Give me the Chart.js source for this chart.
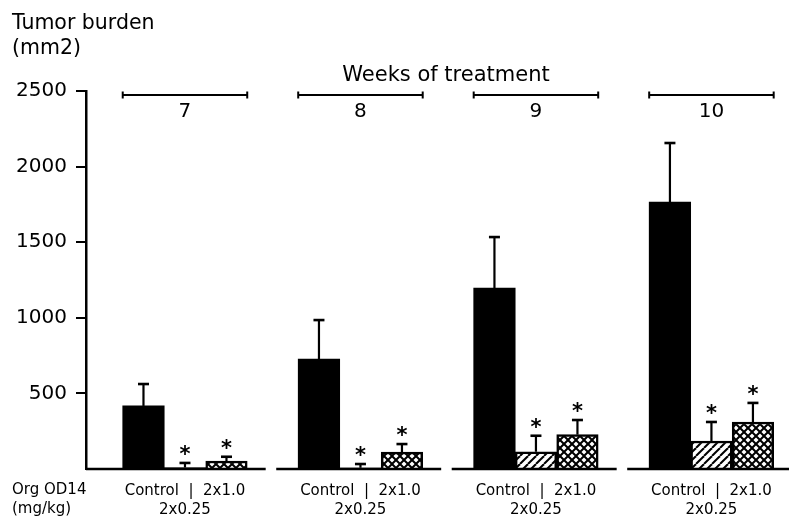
<!DOCTYPE html>
<html>
<head>
<meta charset="utf-8">
<script src="https://cdn.jsdelivr.net/npm/chart.js@4/dist/chart.umd.min.js"></script>
<style>
  html, body { margin: 0; padding: 0; background: #fff; }
  #wrap { width: 789px; height: 519px; position: relative; }
</style>
</head>
<body>
<div id="wrap"><canvas id="c" width="789" height="519"></canvas></div>
<script>
// Tumor burden (mm2) per week of treatment, mean and one-sided SD
const weeks = [7, 8, 9, 10];
const doseLabels = ['Control', '2x0.25', '2x1.0'];
const controlMean = [417, 727, 1197, 1766];
const controlErr = [145, 258, 337, 390];
const lowDoseMean = [10, 8, 114, 185];
const lowDoseErr = [30, 25, 106, 126];
const highDoseMean = [53, 112, 227, 311];
const highDoseErr = [28, 53, 97, 126];
const yTicks = [500, 1000, 1500, 2000, 2500];
// significance markers (*) per dose group and week
const significant = [
  [false, false, false, false],
  [true, true, true, true],
  [true, true, true, true]
];

const FONT = 'DejaVu Sans';
const canvas = document.getElementById('c');
const ctx = canvas.getContext('2d');

function makePattern(cross) {
  const s = 8;
  const pc = document.createElement('canvas');
  pc.width = s; pc.height = s;
  const g = pc.getContext('2d');
  g.fillStyle = '#fff';
  g.fillRect(0, 0, s, s);
  g.strokeStyle = '#000';
  g.lineWidth = 2;
  const seg = (x1, y1, x2, y2) => { g.beginPath(); g.moveTo(x1, y1); g.lineTo(x2, y2); g.stroke(); };
  for (const o of [-s, 0, s]) seg(o, s, o + s, 0);
  if (cross) for (const o of [-s, 0, s]) seg(o, 0, o + s, s);
  return ctx.createPattern(pc, 'repeat');
}

const series = [
  { mean: controlMean, err: controlErr, fill: '#000' },
  { mean: lowDoseMean, err: lowDoseErr, fill: makePattern(false) },
  { mean: highDoseMean, err: highDoseErr, fill: makePattern(true) }
];

const decorations = {
  id: 'decorations',
  afterDatasetsDraw(chart) {
    const c = chart.ctx;
    const xs = chart.scales.x, ys = chart.scales.y;
    const area = chart.chartArea;
    const y0 = ys.getPixelForValue(0);
    c.save();
    c.strokeStyle = '#000';
    c.fillStyle = '#000';

    // baseline segment under each week group; the first one joins the y axis
    c.lineWidth = 2.5;
    weeks.forEach((w, i) => {
      const l = i === 0 ? area.left : xs.getPixelForValue(w - 0.48);
      const r = Math.min(xs.getPixelForValue(w + 0.46), chart.width);
      c.beginPath(); c.moveTo(l, y0); c.lineTo(r, y0); c.stroke();
    });

    // error bars (upper only) and significance stars
    series.forEach((s, d) => {
      const meta = chart.getDatasetMeta(d);
      meta.data.forEach((bar, i) => {
        const top = ys.getPixelForValue(s.mean[i] + s.err[i]);
        c.lineWidth = 2.2;
        c.beginPath(); c.moveTo(bar.x, bar.y); c.lineTo(bar.x, top); c.stroke();
        c.lineWidth = 2.6;
        c.beginPath(); c.moveTo(bar.x - 5.5, top); c.lineTo(bar.x + 5.5, top); c.stroke();
        if (significant[d][i]) {
          c.font = 'bold 21px "' + FONT + '"';
          c.textAlign = 'center';
          c.textBaseline = 'alphabetic';
          c.fillText('*', bar.x, top - 13 + 11);
        }
      });
    });

    // week brackets and numbers
    const m0 = chart.getDatasetMeta(0), m2 = chart.getDatasetMeta(2);
    weeks.forEach((w, i) => {
      const a = m0.data[i], b = m2.data[i];
      const l = a.x - a.width / 2, r = b.x + b.width / 2;
      const yb = 95;
      c.lineWidth = 2;
      c.beginPath(); c.moveTo(l, yb); c.lineTo(r, yb); c.stroke();
      c.beginPath(); c.moveTo(l, yb - 3.5); c.lineTo(l, yb + 3.5); c.stroke();
      c.beginPath(); c.moveTo(r, yb - 3.5); c.lineTo(r, yb + 3.5); c.stroke();
      c.font = '20px "' + FONT + '"';
      c.textAlign = 'center';
      c.textBaseline = 'middle';
      c.fillText(String(w), (l + r) / 2, 112);
    });

    c.font = '21px "' + FONT + '"';
    c.textAlign = 'center';
    c.textBaseline = 'middle';
    c.fillText('Weeks of treatment', 446, 76);

    // axis title
    c.textAlign = 'left';
    c.textBaseline = 'alphabetic';
    c.font = '20.5px "' + FONT + '"';
    c.fillText('Tumor burden', 12, 29);
    c.fillText('(mm2)', 12, 54);

    // dose row caption
    c.font = '15px "' + FONT + '"';
    c.textBaseline = 'middle';
    c.fillText('Org OD14', 12, 490);
    c.fillText('(mg/kg)', 12, 509);
    c.restore();
  }
};

new Chart(ctx, {
  type: 'bar',
  data: {
    datasets: series.map((s, d) => ({
      label: doseLabels[d],
      data: weeks.map((w, i) => ({ x: w, y: s.mean[i] })),
      backgroundColor: s.fill,
      borderColor: '#000',
      borderWidth: d === 0 ? 0 : 2.5,
      borderSkipped: 'start'
    }))
  },
  options: {
    responsive: false,
    animation: false,
    devicePixelRatio: 1,
    layout: { padding: { top: 91, left: 0, right: 0, bottom: 0 } },
    plugins: { legend: { display: false }, tooltip: { enabled: false }, title: { display: false } },
    datasets: { bar: { barThickness: 41.5, grouped: true } },
    scales: {
      x: {
        type: 'linear',
        offset: false,
        min: 6.436,
        max: 10.442,
        border: { display: false },
        grid: { display: false },
        afterBuildTicks: s => { s.ticks = weeks.map(v => ({ value: v })); },
        afterFit: s => { s.height = 50; },
        ticks: {
          autoSkip: false,
          maxRotation: 0,
          color: '#000',
          padding: 5,
          font: { family: FONT, size: 15, lineHeight: '19px' },
          callback: () => [doseLabels[0] + '  |  ' + doseLabels[2], doseLabels[1]]
        }
      },
      y: {
        min: 0,
        max: 2500,
        afterBuildTicks: s => { s.ticks = yTicks.map(v => ({ value: v })); },
        afterFit: s => { s.width = 86; },
        border: { display: true, color: '#000', width: 2.5 },
        grid: { drawOnChartArea: false, drawTicks: true, tickLength: 10, color: '#000', lineWidth: 2 },
        ticks: { color: '#000', padding: 9, font: { family: FONT, size: 20 }, callback: v => String(v) }
      }
    }
  },
  plugins: [decorations]
});
</script>
</body>
</html>
